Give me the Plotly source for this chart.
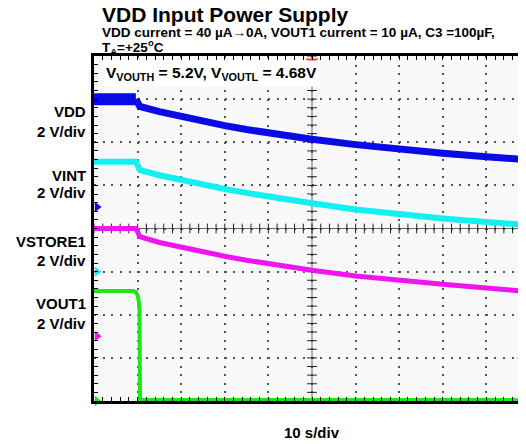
import numpy as np
import plotly.graph_objects as go

FONT = "Arial, Liberation Sans, sans-serif"

# ---------------- data (volts vs seconds) ----------------
volts_per_div = 2.0
sec_per_div = 10.0

# channel ground reference positions (in divisions from bottom)
ch_names = ["VDD", "VINT", "VSTORE1", "VOUT1"]
ch_offsets = [4.5, 3.0, 1.5, 0.0]
ch_colors = ["#0A0AE6", "#14F0F0", "#F014F0", "#1EE61E"]

# VDD (blue) - noisy flat part then decay
t_vdd_flat = [0.0, 9.6]
v_vdd_flat = [5.0, 5.0]
t_vdd = [9.6, 10.0, 10.5, 15, 20, 25, 30, 35, 40, 45, 50, 60, 70, 80, 90, 100]
v_vdd = [5.0, 4.85, 4.66, 4.42, 4.18, 3.97, 3.77, 3.59, 3.43, 3.28, 3.14, 2.89, 2.67, 2.49, 2.33, 2.18]

# VINT (cyan)
t_vint = [0.0, 9.6, 10.0, 10.5, 15, 20, 25, 30, 35, 40, 45, 50, 60, 70, 80, 90, 100]
v_vint = [5.1, 5.1, 4.92, 4.72, 4.47, 4.24, 4.03, 3.83, 3.65, 3.48, 3.32, 3.17, 2.88, 2.65, 2.46, 2.30, 2.16]

# VSTORE1 (magenta)
t_vstore = [0.0, 9.6, 10.0, 10.5, 15, 20, 25, 30, 35, 40, 45, 50, 60, 70, 80, 90, 100]
v_vstore = [5.0, 5.0, 4.85, 4.62, 4.35, 4.12, 3.91, 3.71, 3.53, 3.37, 3.21, 3.06, 2.80, 2.58, 2.41, 2.24, 2.07]

# VOUT1 (green)
t_vout = [0.0, 9.0, 9.6, 10.0, 10.3, 10.45, 10.55, 100]
v_vout = [5.1, 5.1, 5.05, 4.9, 4.6, 4.2, 0.05, 0.05]

trigger_time = 50.0
trigger_level_v = 2.0  # on VOUT1

x_max = 99.08
n_div_y = 8

def to_div(v, off):
    return np.asarray(v, dtype=float) / volts_per_div + off

fig = go.Figure()

# center crosshair lines
fig.add_shape(type="line", x0=trigger_time, x1=trigger_time, y0=0, y1=n_div_y,
              line=dict(color="#666", width=1), layer="below")
fig.add_shape(type="line", x0=0, x1=x_max, y0=n_div_y / 2, y1=n_div_y / 2,
              line=dict(color="#666", width=1), layer="below")

# crosshair tick marks
yt = np.arange(0, n_div_y + 0.001, 0.2)
fig.add_trace(go.Scatter(x=np.full(len(yt), trigger_time), y=yt, mode="markers",
                         marker=dict(symbol="line-ew", size=7, line=dict(color="#222", width=1)),
                         hoverinfo="skip", showlegend=False))
xt = np.arange(0, x_max, sec_per_div / 5)
fig.add_trace(go.Scatter(x=xt, y=np.full(len(xt), n_div_y / 2), mode="markers",
                         marker=dict(symbol="line-ns", size=7, line=dict(color="#222", width=1)),
                         hoverinfo="skip", showlegend=False))

# traces
fig.add_trace(go.Scatter(x=t_vdd_flat, y=to_div(v_vdd_flat, ch_offsets[0]), mode="lines",
                         line=dict(color=ch_colors[0], width=12), showlegend=False))
fig.add_trace(go.Scatter(x=t_vdd, y=to_div(v_vdd, ch_offsets[0]), mode="lines",
                         line=dict(color=ch_colors[0], width=7), showlegend=False))
fig.add_trace(go.Scatter(x=t_vint, y=to_div(v_vint, ch_offsets[1]), mode="lines",
                         line=dict(color=ch_colors[1], width=6), showlegend=False))
fig.add_trace(go.Scatter(x=t_vstore, y=to_div(v_vstore, ch_offsets[2]), mode="lines",
                         line=dict(color=ch_colors[2], width=5), showlegend=False))
fig.add_trace(go.Scatter(x=t_vout, y=to_div(v_vout, ch_offsets[3]), mode="lines",
                         line=dict(color=ch_colors[3], width=4), showlegend=False))

# channel ground markers
fig.add_trace(go.Scatter(x=[0.7] * 4, y=ch_offsets, mode="markers", cliponaxis=False,
                         marker=dict(symbol="triangle-right", size=9, color=ch_colors),
                         hoverinfo="skip", showlegend=False))
# trigger position marker
fig.add_trace(go.Scatter(x=[trigger_time], y=[n_div_y - 0.12], mode="markers", cliponaxis=False,
                         marker=dict(symbol="triangle-down", size=11, color="#FF4010"),
                         hoverinfo="skip", showlegend=False))
# trigger level marker
fig.add_trace(go.Scatter(x=[x_max - 0.9], y=[to_div(trigger_level_v, ch_offsets[3])], mode="markers",
                         cliponaxis=False,
                         marker=dict(symbol="triangle-left", size=10, color="#006400"),
                         hoverinfo="skip", showlegend=False))

# text annotations
ann = []
ann.append(dict(text="<b>VDD Input Power Supply</b>", xref="paper", yref="paper",
                x=0.0139, y=1.119, xanchor="left", yanchor="middle", showarrow=False,
                font=dict(size=21, family=FONT, color="black")))
ann.append(dict(text="<b>VDD current = 40 µA→0A, VOUT1 current = 10 µA, C3 =100µF,</b>",
                xref="paper", yref="paper", x=0.0139, y=1.069, xanchor="left", yanchor="middle",
                showarrow=False, font=dict(size=13.5, family=FONT, color="black")))
ann.append(dict(text="<b>T<sub>A</sub>=+25<sup>o</sup>C</b>",
                xref="paper", yref="paper", x=0.0139, y=1.027, xanchor="left", yanchor="middle",
                showarrow=False, font=dict(size=13.5, family=FONT, color="black")))
ann.append(dict(text="<b>V<sub>VOUTH</sub> = 5.2V, V<sub>VOUTL</sub> = 4.68V</b>",
                xref="x", yref="y", x=27.0, y=7.59, xanchor="center", yanchor="middle",
                showarrow=False, bgcolor="white", borderpad=3,
                font=dict(size=15.5, family=FONT, color="black")))
label_y = [(6.71, 6.26), (5.24, 4.83), (3.70, 3.25), (2.27, 1.79)]
for name, (y1, y2) in zip(ch_names, label_y):
    ann.append(dict(text=f"<b>{name}</b>", xref="paper", yref="y", x=0, y=y1, xanchor="right",
                    yanchor="middle", xshift=-6, showarrow=False,
                    font=dict(size=15, family=FONT, color="black")))
    ann.append(dict(text="<b>2 V/div</b>", xref="paper", yref="y", x=0, y=y2, xanchor="right",
                    yanchor="middle", xshift=-6, showarrow=False,
                    font=dict(size=15, family=FONT, color="black")))
ann.append(dict(text="<b>10 s/div</b>", xref="x", yref="paper", x=trigger_time, y=-0.09,
                xanchor="center", yanchor="middle", showarrow=False,
                font=dict(size=15, family=FONT, color="black")))

fig.update_layout(
    width=518, height=436,
    margin=dict(l=86, r=0, t=48, b=43),
    paper_bgcolor="white", plot_bgcolor="#F8F8F8",
    annotations=ann,
    showlegend=False,
    xaxis=dict(range=[0, x_max], dtick=sec_per_div, tick0=0, showticklabels=False,
               showgrid=True, gridcolor="#555", gridwidth=2, griddash="2px,6.6px",
               zeroline=False, showline=True, linecolor="black", linewidth=3, mirror="allticks",
               ticks="inside", ticklen=4, tickcolor="black",
               minor=dict(dtick=sec_per_div / 5, ticks="inside", ticklen=4, tickcolor="black",
                          showgrid=False)),
    yaxis=dict(range=[0, n_div_y], dtick=1, tick0=0, showticklabels=False,
               showgrid=True, gridcolor="#555", gridwidth=2, griddash="2px,6.7px",
               zeroline=False, showline=True, linecolor="black", linewidth=3, mirror=False,
               ticks="inside", ticklen=4, tickcolor="black",
               minor=dict(dtick=0.2, ticks="inside", ticklen=4, tickcolor="black",
                          showgrid=False)),
)

fig.write_html("out.html")
